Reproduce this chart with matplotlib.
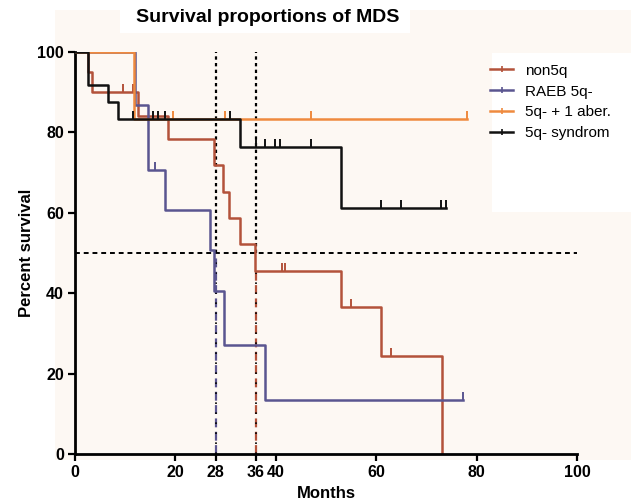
import matplotlib
matplotlib.use("Agg")
import matplotlib.pyplot as plt
from matplotlib.patches import Rectangle
from matplotlib.lines import Line2D

plt.rcParams['font.family'] = ['Liberation Sans Narrow', 'Liberation Sans', 'DejaVu Sans']

# step curves: event times (months) and survival after each event (%)
non5q_t = [0, 2.6, 3.3, 12.5, 18.5, 27.7, 29.5, 30.7, 32.9, 35.9, 52.9, 61.0, 73.2]
non5q_s = [100, 95.0, 90.0, 84.1, 78.3, 71.9, 65.2, 58.6, 52.2, 45.4, 36.6, 24.4, 0]
non5q_end = 73.2
non5q_cens_t = [9.6, 11.5, 41.2, 41.8, 54.9, 63.0]
non5q_cens_s = [90.0, 90.0, 45.4, 45.4, 36.6, 24.4]

raeb_t = [0, 12.0, 14.6, 17.9, 26.8, 27.7, 29.6, 37.8]
raeb_s = [100, 86.7, 70.6, 60.7, 50.7, 40.6, 27.1, 13.5]
raeb_end = 77.2
raeb_cens_t = [16.0, 77.2]
raeb_cens_s = [70.6, 13.5]

aber_t = [0, 11.8]
aber_s = [100, 83.3]
aber_end = 78.0
aber_cens_t = [4.6, 9.6, 19.5, 29.9, 47.0, 78.0]
aber_cens_s = [100, 100, 83.3, 83.3, 83.3, 83.3]

syn_t = [0, 2.6, 6.6, 8.6, 32.9, 52.9]
syn_s = [100, 91.7, 87.5, 83.3, 76.4, 61.2]
syn_end = 74.0
syn_cens_t = [11.6, 15.5, 16.5, 17.9, 30.9, 36.0, 37.8, 39.8, 40.8, 47.0, 61.0, 65.0, 73.0, 74.0]
syn_cens_s = [83.3, 83.3, 83.3, 83.3, 83.3, 76.4, 76.4, 76.4, 76.4, 76.4, 61.2, 61.2, 61.2, 61.2]

labels = ['non5q', 'RAEB 5q-', '5q- + 1 aber.', '5q- syndrom']
colors = ['#b3523a', '#5a5590', '#ef8a3e', '#111111']
medians = [28, 36]
xticks = [0, 20, 28, 36, 40, 60, 80, 100]
yticks = [0, 20, 40, 60, 80, 100]

fig = plt.figure(figsize=(6.31, 5.03), dpi=100)
fig.patch.set_facecolor('white')
# cream backdrop with white patches behind title and legend
fig.patches.append(Rectangle((55 / 631, 43 / 503), 576 / 631, 450 / 503, transform=fig.transFigure,
                             facecolor='#fdf8f3', edgecolor='none', zorder=-10))
fig.patches.append(Rectangle((120 / 631, 470 / 503), 290 / 631, 33 / 503, transform=fig.transFigure,
                             facecolor='white', edgecolor='none', zorder=-9))
fig.patches.append(Rectangle((492 / 631, 291 / 503), 139 / 631, 159 / 503, transform=fig.transFigure,
                             facecolor='white', edgecolor='none', zorder=-9))

ax = fig.add_axes([75 / 631, 49 / 503, 502 / 631, 402 / 503])
ax.set_facecolor('none')

# median reference lines
ax.axhline(50, color='black', lw=1.4, ls=(0, (2.5, 2)), zorder=1)
for m in medians:
    ax.plot([m, m], [50, 100], color='black', lw=1.6, ls=(0, (1.5, 1.5)), zorder=1)
ax.plot([28, 28], [0, 50], color=colors[1], lw=1.6, ls=(0, (4, 2)), zorder=1)
ax.plot([28, 28], [0, 50], color='black', lw=1.2, ls=(0, (1, 5)), zorder=1)
ax.plot([36, 36], [0, 45.4], color=colors[0], lw=1.6, ls=(0, (4, 2)), zorder=1)
ax.plot([36, 36], [0, 45.4], color='black', lw=1.2, ls=(0, (1, 5)), zorder=1)

curves = [
    (non5q_t, non5q_s, non5q_end, non5q_cens_t, non5q_cens_s),
    (raeb_t, raeb_s, raeb_end, raeb_cens_t, raeb_cens_s),
    (aber_t, aber_s, aber_end, aber_cens_t, aber_cens_s),
    (syn_t, syn_s, syn_end, syn_cens_t, syn_cens_s),
]
for i, (t, s, end, ct, cs) in enumerate(curves):
    tt = list(t) + [end]
    ss = list(s) + [s[-1]]
    ax.step(tt, ss, where='post', color=colors[i], lw=1.8, zorder=2 + i)
    ax.plot(ct, cs, ls='none', marker=2, ms=6, mew=1.4, color=colors[i], zorder=2 + i)

handles = [Line2D([0], [0], color=c, lw=1.8, marker='|', ms=5, mew=1.2) for c in colors]
ax.legend(handles, labels, loc='upper left', bbox_to_anchor=(0.8, 1.005), frameon=False,
          handlelength=1.5, handletextpad=0.8, labelspacing=0.45,
          prop={'family': 'Liberation Sans', 'size': 11})

ax.set_xlim(0, 100)
ax.set_ylim(0, 100)
ax.set_xticks(xticks)
ax.set_yticks(yticks)
ax.tick_params(width=1.6, length=5, labelsize=11.5, pad=3)
for lab in ax.get_xticklabels() + ax.get_yticklabels():
    lab.set_fontweight('bold')
for side in ['top', 'right']:
    ax.spines[side].set_visible(False)
for side in ['left', 'bottom']:
    ax.spines[side].set_linewidth(2)

ax.set_xlabel('Months', fontsize=12, fontweight='bold', labelpad=4,
              family=['Liberation Sans', 'DejaVu Sans'])
ax.set_ylabel('Percent survival', fontsize=12, fontweight='bold', labelpad=2,
              family=['Liberation Sans', 'DejaVu Sans'])
fig.text(268 / 631, 485 / 503, 'Survival proportions of MDS', ha='center', va='center',
         fontsize=14, fontweight='bold', family=['Liberation Sans', 'DejaVu Sans'])

fig.savefig('out.png', dpi=100)
